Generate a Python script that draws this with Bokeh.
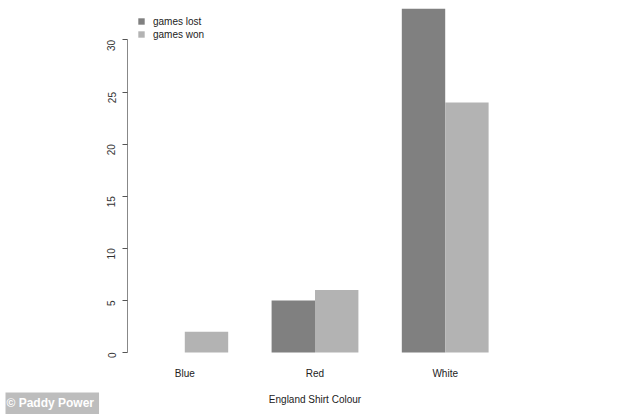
from bokeh.plotting import figure
from bokeh.models import Range1d, FixedTicker, Legend, LegendItem, Label
from bokeh.embed import file_html
from bokeh.resources import INLINE
import math

categories = ["Blue", "Red", "White"]
games_lost = [0, 5, 33]
games_won = [2, 6, 24]
y_ticks = [0, 5, 10, 15, 20, 25, 30]

col_lost = "#808080"
col_won = "#b3b3b3"
FONT = "Liberation Sans"

# R barplot(beside=TRUE) positions: bar width 1, gap 1 between groups
x_lost = [3 * i + 1.5 for i in range(len(categories))]
x_won = [3 * i + 2.5 for i in range(len(categories))]
centers = [3 * i + 2 for i in range(len(categories))]

W, H = 634, 414
FL, FR, FT, FB = 127, 502, 0, 366   # frame edges in pixels
X0, X1 = 0.68, 9.32
PPU_Y = 10.42
Y0 = -(FB - 352) / PPU_Y
Y1 = (352 - FT) / PPU_Y

p = figure(width=W, height=H, output_backend="svg", toolbar_location=None,
           x_range=Range1d(X0, X1), y_range=Range1d(Y0, Y1),
           min_border_left=FL, min_border_right=W - FR, min_border_top=FT,
           min_border_bottom=H - FB)
p.outline_line_color = None
p.grid.visible = False
p.background_fill_color = "white"
p.border_fill_color = "white"

r_lost = p.vbar(x=x_lost, top=games_lost, bottom=0, width=1.0,
                fill_color=col_lost, line_color=None)
r_won = p.vbar(x=x_won, top=games_won, bottom=0, width=1.0,
               fill_color=col_won, line_color=None)

# y axis
ya = p.yaxis[0]
ya.ticker = FixedTicker(ticks=y_ticks)
ya.bounds = (0, 30)
ya.axis_line_color = "#888888"
ya.major_tick_line_color = "#555555"
ya.major_tick_out = 5
ya.major_tick_in = 0
ya.minor_tick_line_color = None
ya.major_label_orientation = math.pi / 2
ya.major_label_standoff = 11
ya.major_label_text_font = FONT
ya.major_label_text_font_size = "10px"
ya.major_label_text_color = "#333333"

# x axis
xa = p.xaxis[0]
xa.ticker = FixedTicker(ticks=centers)
xa.major_label_overrides = {c: n for c, n in zip(centers, categories)}
xa.axis_line_color = None
xa.major_tick_line_color = None
xa.minor_tick_line_color = None
xa.major_tick_out = 0
xa.major_label_standoff = 1
xa.major_label_text_font = FONT
xa.major_label_text_font_size = "10px"
xa.major_label_text_color = "#222222"
xa.axis_label = "England Shirt Colour"
xa.axis_label_text_font = FONT
xa.axis_label_text_font_size = "10px"
xa.axis_label_text_font_style = "normal"
xa.axis_label_text_color = "#222222"
xa.axis_label_standoff = 12

legend = Legend(items=[LegendItem(label="games lost", renderers=[r_lost]),
                       LegendItem(label="games won", renderers=[r_won])],
                location=(10, 326), orientation="vertical",
                glyph_width=8, glyph_height=8, label_height=12,
                label_standoff=8, spacing=1, padding=0, margin=0,
                border_line_color=None, background_fill_alpha=0,
                label_text_font=FONT, label_text_font_size="10px",
                label_text_color="#222222")
p.add_layout(legend, "center")

# watermark, hosted in the (otherwise empty) right panel
wm = Label(x=5 - FR, y=-(H - FB), x_units="screen", y_units="screen",
           text="\u00a9 Paddy Power", text_font=FONT, text_font_size="12px",
           text_font_style="bold", text_color="white",
           background_fill_color="#bdbdbd", background_fill_alpha=1.0,
           padding=(1, 5, 3, 5))
p.add_layout(wm, "right")

open("out.html", "w").write(file_html(p, INLINE))
